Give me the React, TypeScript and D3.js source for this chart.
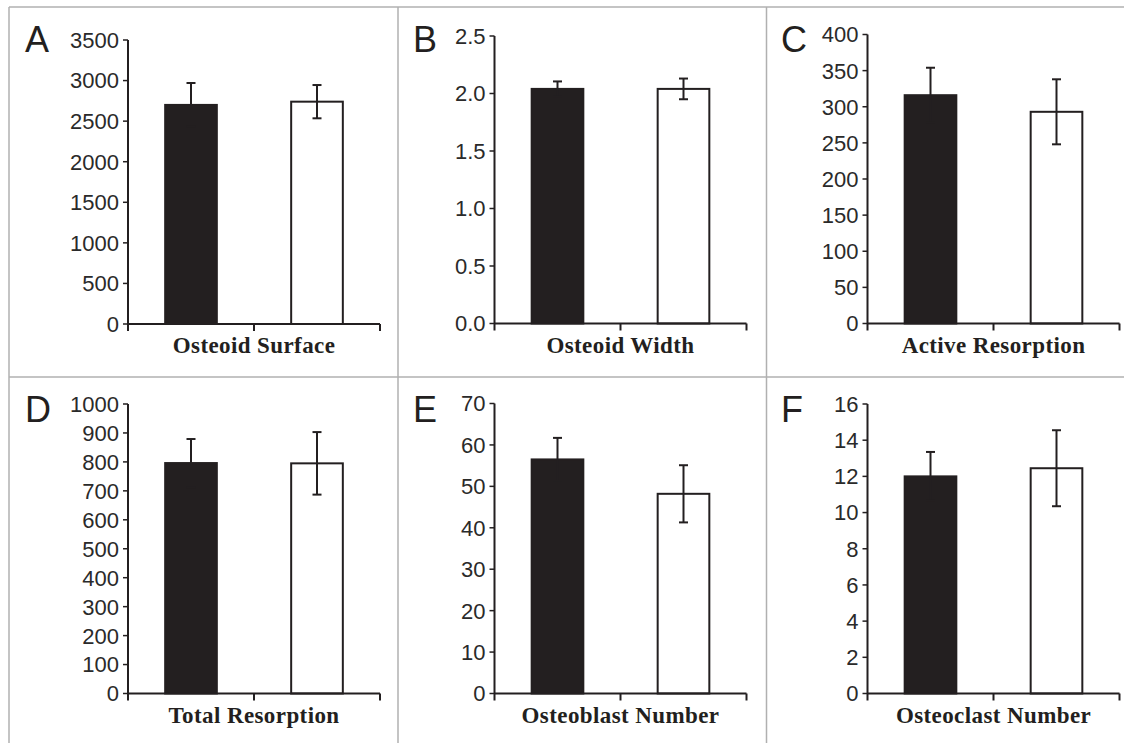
import React, { useEffect, useRef } from "react";
import * as d3 from "d3";

const panelLetters = ["A", "B", "C", "D", "E", "F"];
const panelTitles = [
  "Osteoid Surface",
  "Osteoid Width",
  "Active Resorption",
  "Total Resorption",
  "Osteoblast Number",
  "Osteoclast Number",
];
const yMaxes = [3500, 2.5, 400, 1000, 70, 16];
const yTickSteps = [500, 0.5, 50, 100, 10, 2];
const tickFormats = ["d", ".1f", "d", "d", "d", "d"];
const groups = ["black", "white"];
const blackMeans = [2700, 2.04, 316, 796, 56.5, 12.0];
const blackErrors = [270, 0.065, 38, 83, 5.2, 1.35];
const whiteMeans = [2740, 2.04, 293, 795, 48.2, 12.45];
const whiteErrors = [205, 0.09, 45, 108, 6.9, 2.1];

const App = () => {
  const svgRef = useRef(null);

  useEffect(() => {
    const width = 1124;
    const height = 743;
    const svg = d3.select(svgRef.current).attr("width", width).attr("height", height);
    svg.selectAll("*").remove();

    svg.append("rect").attr("width", width).attr("height", height).attr("fill", "#fff");

    // panel frame lines
    const frame = svg.append("g").attr("stroke", "#b0b0b0").attr("stroke-width", 1.5);
    frame.append("line").attr("x1", 9).attr("x2", width).attr("y1", 7).attr("y2", 7);
    frame.append("line").attr("x1", 9).attr("x2", width).attr("y1", 377).attr("y2", 377);
    frame.append("line").attr("x1", 9).attr("x2", 9).attr("y1", 7).attr("y2", height);
    frame.append("line").attr("x1", 398).attr("x2", 398).attr("y1", 7).attr("y2", height);
    frame.append("line").attr("x1", 766.5).attr("x2", 766.5).attr("y1", 7).attr("y2", height);

    const colX = [128, 494.5, 867.5];
    const letterX = [25, 413, 781];
    const plotTops = [40, 36, 34.5, 404, 403.5, 404];
    const plotBottoms = [324, 323.5, 323.5, 693.5, 693.5, 693.5];
    const plotW = 252;

    panelLetters.forEach((letter, i) => {
      const col = i % 3;
      const row = Math.floor(i / 3);
      const x0 = colX[col];
      const y0 = plotBottoms[i];
      const g = svg.append("g");

      const y = d3.scaleLinear().domain([0, yMaxes[i]]).range([y0, plotTops[i]]);
      const x = d3
        .scaleBand()
        .domain(groups)
        .range([x0, x0 + plotW])
        .paddingInner(0.59)
        .paddingOuter(0.295);

      const ticks = d3.range(0, yMaxes[i] + yTickSteps[i] / 2, yTickSteps[i]);
      const fmt = d3.format(tickFormats[i]);

      const rows = [
        { key: "black", mean: blackMeans[i], err: blackErrors[i] },
        { key: "white", mean: whiteMeans[i], err: whiteErrors[i] },
      ];

      // bars
      g.selectAll("rect.bar")
        .data(rows)
        .enter()
        .append("rect")
        .attr("x", (d) => x(d.key))
        .attr("y", (d) => y(d.mean))
        .attr("width", x.bandwidth())
        .attr("height", (d) => y0 - y(d.mean))
        .attr("fill", (d) => (d.key === "black" ? "#231f20" : "#fff"))
        .attr("stroke", "#231f20")
        .attr("stroke-width", 2);

      // error bars
      const eb = g.append("g").attr("stroke", "#231f20").attr("stroke-width", 2);
      rows.forEach((d) => {
        const cx = x(d.key) + x.bandwidth() / 2;
        eb.append("line").attr("x1", cx).attr("x2", cx).attr("y1", y(d.mean - d.err)).attr("y2", y(d.mean + d.err));
        [d.mean + d.err, d.mean - d.err].forEach((v) => {
          eb.append("line").attr("x1", cx - 4.5).attr("x2", cx + 4.5).attr("y1", y(v)).attr("y2", y(v));
        });
      });

      // axes
      const ax = g.append("g").attr("stroke", "#231f20").attr("stroke-width", 2).attr("fill", "none");
      ax.append("line").attr("x1", x0).attr("x2", x0).attr("y1", y(yMaxes[i])).attr("y2", y0 + 7);
      ax.append("line").attr("x1", x0).attr("x2", x0 + plotW).attr("y1", y0).attr("y2", y0);
      [x0 + plotW / 2, x0 + plotW].forEach((tx) => {
        ax.append("line").attr("x1", tx).attr("x2", tx).attr("y1", y0).attr("y2", y0 + 7);
      });
      ticks.forEach((t) => {
        ax.append("line").attr("x1", x0 - 5).attr("x2", x0).attr("y1", y(t)).attr("y2", y(t)).attr("stroke-width", 1.5);
      });

      g.selectAll("text.tick")
        .data(ticks)
        .enter()
        .append("text")
        .attr("x", x0 - 9)
        .attr("y", (t) => y(t))
        .attr("dy", "0.36em")
        .attr("text-anchor", "end")
        .attr("font-family", "Liberation Sans, Arial, sans-serif")
        .attr("font-size", 22)
        .attr("fill", "#2a2a2a")
        .text((t) => fmt(t));

      g.append("text")
        .attr("x", x0 + plotW / 2)
        .attr("y", y0 + 29)
        .attr("text-anchor", "middle")
        .attr("font-family", "Liberation Serif, Times New Roman, serif")
        .attr("font-weight", "bold")
        .attr("font-size", 23)
        .attr("letter-spacing", 0.4)
        .attr("fill", "#231f20")
        .text(panelTitles[i]);

      g.append("text")
        .attr("x", letterX[col])
        .attr("y", row === 0 ? 52 : 422)
        .attr("font-family", "Liberation Sans, Arial, sans-serif")
        .attr("font-size", 36)
        .attr("fill", "#231f20")
        .text(letter);
    });
  }, []);

  return (
    <div style={{ position: "absolute", left: 0, top: 0 }}>
      <svg ref={svgRef}></svg>
    </div>
  );
};

export default App;
